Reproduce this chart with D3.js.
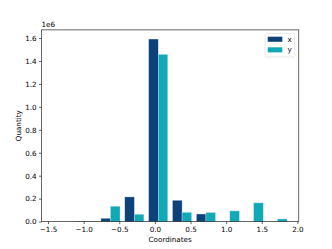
<!DOCTYPE html>
<html>
<head>
<meta charset="utf-8">
<script src="https://cdn.jsdelivr.net/npm/d3@7"></script>
<style>
  body { margin: 0; background: #fff; }
  text { font-family: "DejaVu Sans", sans-serif; fill: #000; }
</style>
</head>
<body>
<div id="chart"></div>
<script>
// histogram bins (10 bins) and counts per series
var binEdges = [-1.461, -1.126, -0.791, -0.456, -0.121, 0.214, 0.549, 0.884, 1.219, 1.554, 1.889]
var xCounts = [0, 2000, 29000, 215000, 1591000, 186000, 66000, 0, 0, 0]
var yCounts = [0, 1500, 134000, 64000, 1457000, 81000, 79000, 93000, 163000, 23000]
var seriesNames = ["x", "y"]
var xTicks = [-1.5, -1.0, -0.5, 0.0, 0.5, 1.0, 1.5, 2.0]
var yTicks = [0, 0.2e6, 0.4e6, 0.6e6, 0.8e6, 1.0e6, 1.2e6, 1.4e6, 1.6e6]

var colors = ["#0d4179", "#12a9b7"]
var W = 332, H = 249
var mL = 41.5, mR = 298.8, mT = 29.9, mB = 221.6
var fs = 7.2

var svg = d3.select("#chart").append("svg")
  .attr("width", W)
  .attr("height", H)

// matplotlib-like limits: bars fill 80% of each bin, plus 5% margins
var bw = binEdges[1] - binEdges[0]
var lo = binEdges[0] + 0.1 * bw
var hi = binEdges[binEdges.length - 1] - 0.1 * bw
var pad = (hi - lo) * 0.05
var x = d3.scaleLinear().domain([lo - pad, hi + pad]).range([mL, mR])
var ymax = d3.max(xCounts.concat(yCounts)) * 1.05
var y = d3.scaleLinear().domain([0, ymax]).range([mB, mT])

var bars = []
binEdges.slice(0, -1).forEach(function(e, i){
  bars.push({x0: e + 0.1 * bw, x1: e + 0.5 * bw, v: xCounts[i], s: 0})
  bars.push({x0: e + 0.5 * bw, x1: e + 0.9 * bw, v: yCounts[i], s: 1})
})

svg.append("g").selectAll("rect")
  .data(bars)
  .enter().append("rect")
  .attr("x", function(d){ return x(d.x0) })
  .attr("width", function(d){ return x(d.x1) - x(d.x0) })
  .attr("y", function(d){ return y(d.v) })
  .attr("height", function(d){ return y(0) - y(d.v) })
  .attr("fill", function(d){ return colors[d.s] })
  .attr("stroke", "#cfe0ec")
  .attr("stroke-width", 0.4)

var fmt = function(v){ return d3.format(".1f")(v).replace("-", "\u2212") }

// x axis
var xa = svg.append("g").attr("transform", "translate(0," + mB + ")")
  .call(d3.axisBottom(x).tickValues(xTicks).tickSize(2.5).tickPadding(2.3).tickFormat(fmt))
// y axis
var ya = svg.append("g").attr("transform", "translate(" + mL + ",0)")
  .call(d3.axisLeft(y).tickValues(yTicks).tickSize(2.5).tickPadding(2.3)
    .tickFormat(function(v){ return d3.format(".1f")(v / 1e6) }))
;[xa, ya].forEach(function(a){
  a.select(".domain").remove()
  a.selectAll("line").attr("stroke", "#000").attr("stroke-width", 0.6)
  a.selectAll("text").style("font-size", fs + "px").attr("fill", "#000")
    .style("font-family", "DejaVu Sans, sans-serif")
})

// frame
svg.append("rect")
  .attr("x", mL).attr("y", mT)
  .attr("width", mR - mL).attr("height", mB - mT)
  .attr("fill", "none").attr("stroke", "#000").attr("stroke-width", 0.6)

// offset text
svg.append("text").attr("x", mL).attr("y", mT - 2.5)
  .style("font-size", fs + "px").text("1e6")

// axis labels
svg.append("text").attr("x", (mL + mR) / 2).attr("y", 242)
  .attr("text-anchor", "middle").style("font-size", fs + "px").text("Coordinates")
svg.append("text")
  .attr("transform", "translate(21," + ((mT + mB) / 2) + ") rotate(-90)")
  .attr("text-anchor", "middle").style("font-size", fs + "px").text("Quantity")

// legend
var lg = svg.append("g").attr("transform", "translate(265,33.3)")
lg.append("rect").attr("width", 29.7).attr("height", 23.7).attr("rx", 1.5)
  .attr("fill", "#fff").attr("fill-opacity", 0.8)
  .attr("stroke", "#d6d6d6").attr("stroke-width", 0.6)
seriesNames.forEach(function(n, i){
  lg.append("rect").attr("x", 2.7).attr("y", 3.4 + i * 10.6)
    .attr("width", 14.6).attr("height", 5.1).attr("fill", colors[i])
  lg.append("text").attr("x", 22.5).attr("y", 8.6 + i * 10.6)
    .style("font-size", fs + "px").text(n)
})
</script>
</body>
</html>
